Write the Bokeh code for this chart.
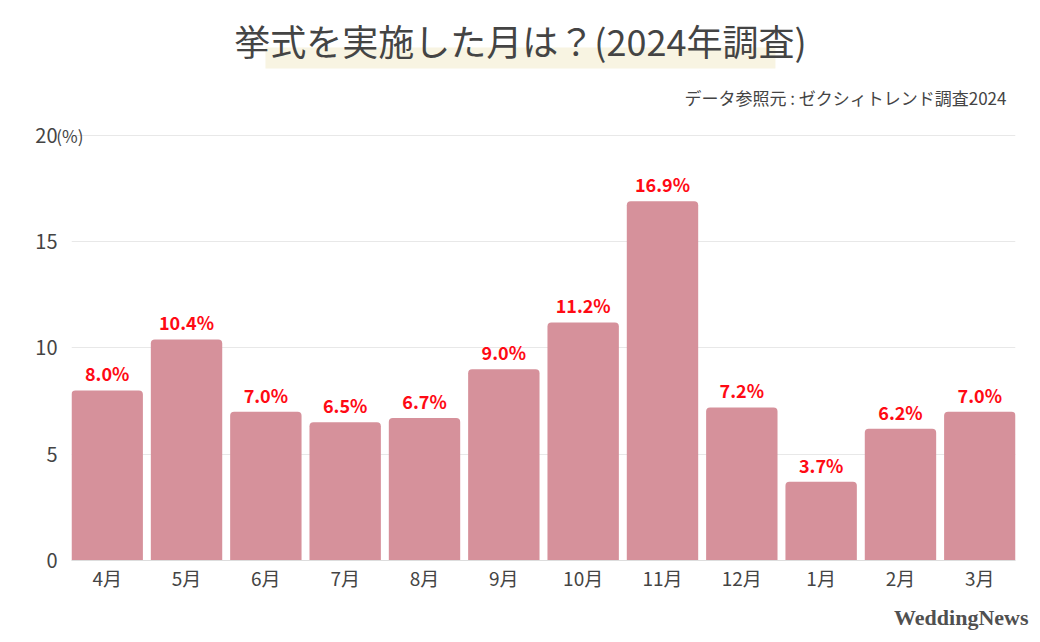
from bokeh.plotting import figure
from bokeh.embed import file_html
from bokeh.resources import INLINE
from bokeh.models import (ColumnDataSource, FactorRange, Range1d, FixedTicker,
                          LinearAxis, Title)
from bokeh.core.properties import value

# data
months = ["4月", "5月", "6月", "7月", "8月", "9月", "10月", "11月", "12月", "1月", "2月", "3月"]
shares = [8.0, 10.4, 7.0, 6.5, 6.7, 9.0, 11.2, 16.9, 7.2, 3.7, 6.2, 7.0]
y_ticks = [0, 5, 10, 15, 20]

title_text = "挙式を実施した月は？(2024年調査)"
source_text = "データ参照元 : ゼクシィトレンド調査2024"
unit_text = "(%)"
logo_text = "WeddingNews"

JP = "Noto Sans CJK JP"
INK = "#444444"
BAR = "#d6919b"
RED = "#ff0a14"

src = ColumnDataSource(data=dict(
    month=months,
    share=shares,
    label=["%.1f%%" % s for s in shares],
))

p = figure(width=1032, height=640,
           x_range=FactorRange(*months, range_padding=-0.1 / 12),
           y_range=Range1d(0, 26.35),
           output_backend="svg",
           toolbar_location=None,
           min_border_left=71, min_border_right=17,
           min_border_top=0, min_border_bottom=80)
p.outline_line_color = None
p.background_fill_color = "white"

# title with its highlight band, and the source note
p.quad(left=[2.495], right=[8.924], bottom=[23.15], top=[24.14],
       fill_color="#f8f4e2", line_color=None)
p.text(x=[5.71], y=[24.5], text=[title_text],
       text_font=value(JP), text_font_size="36px", text_color=INK,
       text_align="center", text_baseline="middle")
p.text(x=[11.836], y=[21.79], text=[source_text],
       text_font=value(JP), text_font_size="17px", text_color=INK,
       text_align="right", text_baseline="middle")

# bars
p.vbar(x="month", top="share", width=0.9, source=src,
       fill_color=BAR, line_color=None, border_radius=(4, 4, 0, 0))
p.text(x="month", y="share", text="label", source=src,
       text_font=value(JP), text_font_size="18px", text_font_style="bold",
       text_color=RED, text_align="center", text_baseline="bottom",
       y_offset=-4)

# axes
yax = p.yaxis[0]
yax.ticker = FixedTicker(ticks=y_ticks)
yax.axis_line_color = None
yax.major_tick_line_color = None
yax.minor_tick_line_color = None
yax.major_tick_out = 0
yax.major_tick_in = 0
yax.major_label_standoff = -4
yax.major_label_text_font = JP
yax.major_label_text_font_size = "20px"
yax.major_label_text_color = INK

# "(%)" next to the 20 tick, as a second axis sitting against the frame
unit_axis = LinearAxis(ticker=FixedTicker(ticks=[y_ticks[-1]]),
                       major_label_overrides={y_ticks[-1]: unit_text},
                       major_label_standoff=-12,
                       major_tick_out=0, major_tick_in=0,
                       major_label_text_font=JP,
                       major_label_text_font_size="17px",
                       major_label_text_color=INK,
                       axis_line_color=None,
                       major_tick_line_color=None,
                       minor_tick_line_color=None)
p.left = [unit_axis, yax]

p.xaxis.axis_line_color = "#dddddd"
p.xaxis.major_tick_line_color = None
p.xaxis.minor_tick_line_color = None
p.xaxis.major_tick_out = 0
p.xaxis.major_tick_in = 0
p.xaxis.major_label_standoff = 3
p.xaxis.major_label_text_font = JP
p.xaxis.major_label_text_font_size = "19px"
p.xaxis.major_label_text_color = INK

p.xgrid.grid_line_color = None
p.ygrid.grid_line_color = "#e8e8e8"

# logo under the plot
p.add_layout(Title(text=logo_text, align="right", offset=-13, standoff=19,
                   text_font="Liberation Serif", text_font_size="22px",
                   text_font_style="bold", text_color="#505050"), "below")

open("out.html", "w").write(file_html(p, INLINE))
